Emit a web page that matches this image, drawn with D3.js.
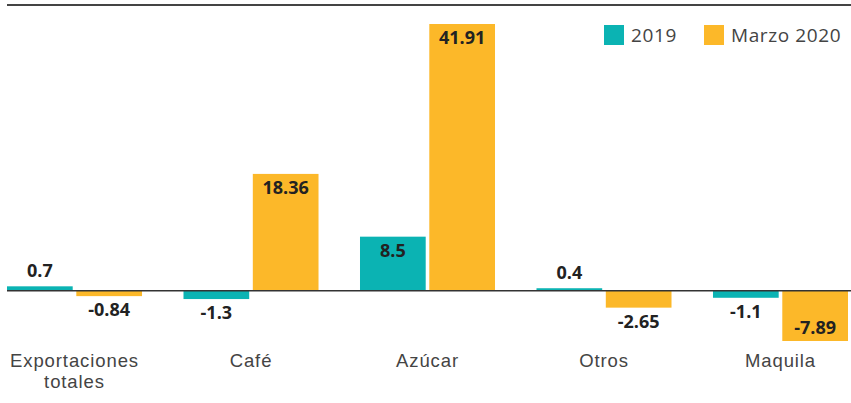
<!DOCTYPE html>
<html><head><meta charset="utf-8">
<script src="https://cdn.jsdelivr.net/npm/d3@7"></script>
<style>body{margin:0;background:#fff}svg{display:block;font-family:"Open Sans","Lato",sans-serif}</style>
</head><body>
<svg id="c" width="851" height="403"></svg>
<script>
const categories = [["Exportaciones","totales"],["Café"],["Azúcar"],["Otros"],["Maquila"]];
const seriesNames = ["2019","Marzo 2020"];
const values2019 = [0.7,-1.3,8.5,0.4,-1.1];
const valuesMarzo2020 = [-0.84,18.36,41.91,-2.65,-7.89];
const labels2019 = ["0.7","-1.3","8.5","0.4","-1.1"];
const labelsMarzo2020 = ["-0.84","18.36","41.91","-2.65","-7.89"];
const colors = ["#0bb3b3","#fcb829"];

const svg = d3.select("#c");
const keys = categories.map(c=>c.join(" "));
const x0 = d3.scaleBand().domain(keys).range([7,848]).paddingInner(0.235).paddingOuter(0);
const x1 = d3.scaleBand().domain(seriesNames).range([0,x0.bandwidth()]).paddingInner(0.052);
const y = d3.scaleLinear().domain([-7.89,41.91]).range([341,24]);

svg.append("line").attr("x1",7).attr("x2",851).attr("y1",5).attr("y2",5).attr("stroke","#444").attr("stroke-width",2);

const data = [];
keys.forEach((k,i)=>{
  data.push({k,s:seriesNames[0],v:values2019[i],l:labels2019[i],c:colors[0]});
  data.push({k,s:seriesNames[1],v:valuesMarzo2020[i],l:labelsMarzo2020[i],c:colors[1]});
});
const g = svg.append("g");
g.selectAll("rect").data(data).join("rect")
  .attr("x",d=>x0(d.k)+x1(d.s)).attr("width",x1.bandwidth())
  .attr("y",d=>y(Math.max(0,d.v))).attr("height",d=>Math.abs(y(d.v)-y(0)))
  .attr("fill",d=>d.c);

svg.append("line").attr("x1",7).attr("x2",851).attr("y1",y(0)).attr("y2",y(0)).attr("stroke","#333").attr("stroke-width",1.5);

g.selectAll("text.v").data(data).join("text").attr("class","v")
  .attr("x",d=>x0(d.k)+x1(d.s)+x1.bandwidth()/2)
  .attr("y",d=>{
    const h=Math.abs(y(d.v)-y(0));
    if(d.v>=0) return h>40 ? y(d.v)+20 : y(d.v)-9;
    return h>40 ? y(d.v)-7 : y(d.v)+20;
  })
  .attr("text-anchor","middle").attr("font-size",18).attr("font-weight","bold").attr("fill","#222")
  .text(d=>d.l);

const cl = svg.append("g");
categories.forEach((c,i)=>{
  c.forEach((line,j)=>cl.append("text")
    .attr("x",x0(keys[i])+x0.bandwidth()/2).attr("y",367+j*21)
    .attr("text-anchor","middle").attr("font-family","'Liberation Sans',Arial,sans-serif")
    .attr("font-size",18.5).attr("letter-spacing",0.9).attr("fill","#444")
    .text(line));
});

const lg = svg.append("g");
const lx = [604,704];
seriesNames.forEach((s,i)=>{
  lg.append("rect").attr("x",lx[i]).attr("y",25).attr("width",20).attr("height",20).attr("fill",colors[i]);
  lg.append("text").attr("x",lx[i]+27).attr("y",42).attr("font-size",19).attr("letter-spacing",0.6).attr("fill","#444").text(s);
});
</script>
</body></html>
